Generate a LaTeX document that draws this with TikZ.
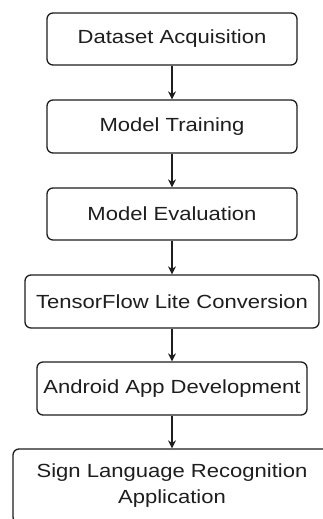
\documentclass[tikz,border=0pt]{standalone}
\usepackage{fontspec}
\setmainfont{Liberation Sans}[FakeStretch=1.16]
\usetikzlibrary{arrows.meta}
\definecolor{ink}{HTML}{1E1E1E}
\tikzset{
  stagebox/.style={draw=ink, line width=1.3pt, rounded corners=6pt, fill=white,
    text=ink, font=\fontsize{19}{26}\selectfont, align=center, inner sep=0pt},
  flowarrow/.style={draw=ink, line width=1.2pt, -{Stealth[length=8pt,width=8pt]}}
}
\begin{document}
\begin{tikzpicture}[x=1pt,y=-1pt]
\clip (0,0) rectangle (323,519);
\fill[white] (0,0) rectangle (323,519);
\node[stagebox, minimum width=250pt, minimum height=52pt] (a) at (172,39) {Dataset Acquisition};
\node[stagebox, minimum width=250pt, minimum height=53pt] (b) at (172,126.5) {Model Training};
\node[stagebox, minimum width=250pt, minimum height=52pt] (c) at (172,214) {Model Evaluation};
\node[stagebox, minimum width=294pt, minimum height=53pt] (d) at (172,301.5) {TensorFlow Lite Conversion};
\node[stagebox, minimum width=270pt, minimum height=53pt] (e) at (172,388.5) {Android App Development};
\node[stagebox, minimum width=318pt, minimum height=74pt] (f) at (172,486) {Sign Language Recognition\\Application};
\draw[flowarrow] (a.south) -- (b.north);
\draw[flowarrow] (b.south) -- (c.north);
\draw[flowarrow] (c.south) -- (d.north);
\draw[flowarrow] (d.south) -- (e.north);
\draw[flowarrow] (e.south) -- (f.north);
\end{tikzpicture}
\end{document}
